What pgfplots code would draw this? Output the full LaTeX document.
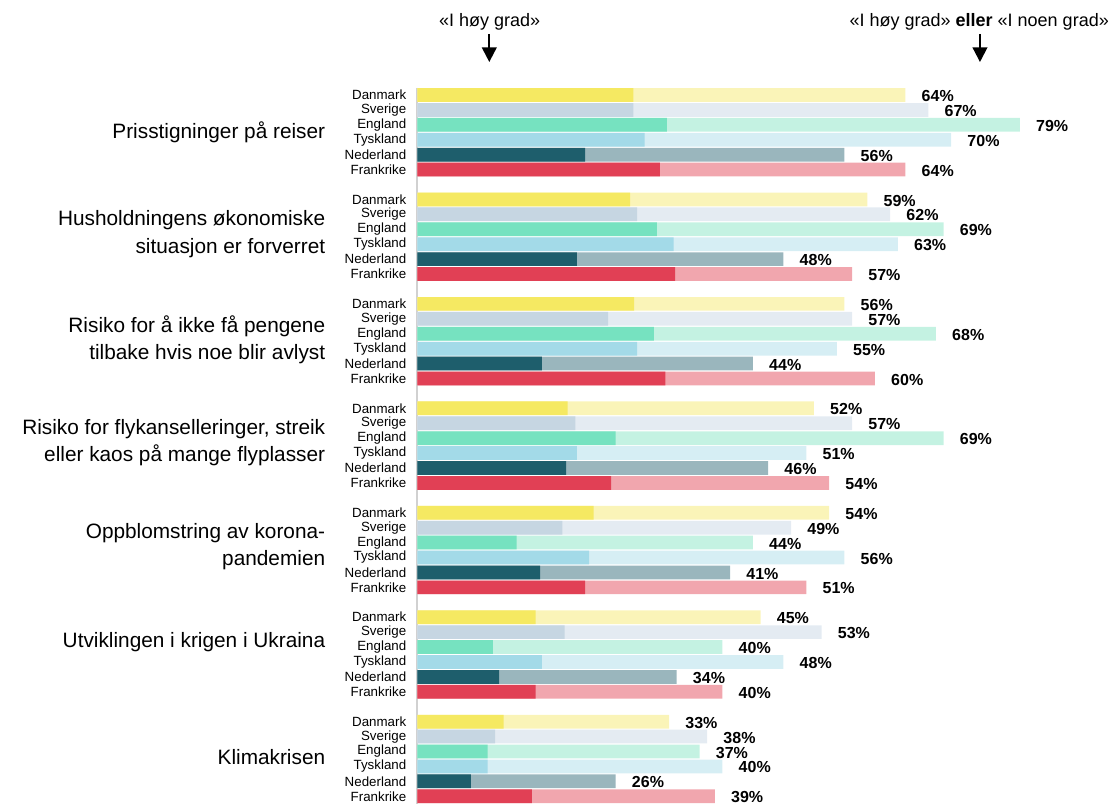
\documentclass[border=0pt]{standalone}
\usepackage{fontspec}
\setmainfont{Liberation Sans}
\usepackage{pgfplots}
\pgfplotsset{compat=1.18}
\usepackage{pgfplotstable}
\usetikzlibrary{arrows.meta}

\definecolor{dDK}{HTML}{F5E962}\definecolor{lDK}{HTML}{FAF4B8}
\definecolor{dSE}{HTML}{C6D6E2}\definecolor{lSE}{HTML}{E4EBF2}
\definecolor{dEN}{HTML}{76E2C0}\definecolor{lEN}{HTML}{C4F2E2}
\definecolor{dTY}{HTML}{A3DAE8}\definecolor{lTY}{HTML}{D6EEF4}
\definecolor{dNL}{HTML}{1E5E6C}\definecolor{lNL}{HTML}{9AB6BD}
\definecolor{dFR}{HTML}{E14055}\definecolor{lFR}{HTML}{F1A6AE}

% row = 7*group + country ; hi = "I høy grad", tot = "I høy grad" eller "I noen grad"
\pgfplotstableread{
row hi tot
0 28.3 64
7 27.9 59
14 28.4 56
21 19.7 52
28 23.1 54
35 15.5 45
42 11.3 33
}\tDK
\pgfplotstableread{
row hi tot
1 28.3 67
8 28.8 62
15 25.0 57
22 20.7 57
29 19.0 49
36 19.3 53
43 10.2 38
}\tSE
\pgfplotstableread{
row hi tot
2 32.7 79
9 31.4 69
16 31.0 68
23 26.0 69
30 13.0 44
37 9.9 40
44 9.2 37
}\tEN
\pgfplotstableread{
row hi tot
3 29.8 70
10 33.6 63
17 28.8 55
24 20.9 51
31 22.5 56
38 16.3 48
45 9.2 40
}\tTY
\pgfplotstableread{
row hi tot
4 22.0 56
11 20.9 48
18 16.3 44
25 19.5 46
32 16.1 41
39 10.7 34
46 7.0 26
}\tNL
\pgfplotstableread{
row hi tot
5 31.8 64
12 33.8 57
19 32.5 60
26 25.4 54
33 22.0 51
40 15.5 40
47 15.0 39
}\tFR

\newcommand{\titlefont}{\fontsize{15.6}{20.5}\selectfont}
\newcommand{\topfont}{\fontsize{13.5}{16}\selectfont}

\begin{document}
\begin{tikzpicture}
\begin{axis}[
  x=5.71875pt, y=11.19pt, y dir=reverse,
  xmin=0, xmax=85, ymin=-0.5, ymax=47.52,
  axis x line=none, axis y line=left,
  y axis line style={-, draw=black!18, line width=1.5pt},
  ytick={0,1,2,3,4,5,7,8,9,10,11,12,14,15,16,17,18,19,21,22,23,24,25,26,28,29,30,31,32,33,35,36,37,38,39,40,42,43,44,45,46,47},
  yticklabels={Danmark,Sverige,England,Tyskland,Nederland,Frankrike,
    Danmark,Sverige,England,Tyskland,Nederland,Frankrike,
    Danmark,Sverige,England,Tyskland,Nederland,Frankrike,
    Danmark,Sverige,England,Tyskland,Nederland,Frankrike,
    Danmark,Sverige,England,Tyskland,Nederland,Frankrike,
    Danmark,Sverige,England,Tyskland,Nederland,Frankrike,
    Danmark,Sverige,England,Tyskland,Nederland,Frankrike},
  major tick length=0pt,
  yticklabel style={font=\fontsize{10}{12}\selectfont, inner sep=0pt, anchor=east, xshift=-8.2pt},
  clip=false,
  mybar/.style={xbar, bar width=0.92, bar shift=0pt, draw=none},
  lab/.style={point meta=x,
    nodes near coords={\pgfmathprintnumber[assume math mode=true]{\pgfplotspointmeta}\%},
    every node near coord/.append style={anchor=west, inner sep=0pt, xshift=12pt, yshift=-0.8pt,
      font=\fontsize{12}{14}\selectfont\bfseries, text=black}},
]
\addplot[mybar, fill=lDK, lab] table[x=tot, y=row]{\tDK};
\addplot[mybar, fill=dDK] table[x=hi, y=row]{\tDK};
\addplot[mybar, fill=lSE, lab] table[x=tot, y=row]{\tSE};
\addplot[mybar, fill=dSE] table[x=hi, y=row]{\tSE};
\addplot[mybar, fill=lEN, lab] table[x=tot, y=row]{\tEN};
\addplot[mybar, fill=dEN] table[x=hi, y=row]{\tEN};
\addplot[mybar, fill=lTY, lab] table[x=tot, y=row]{\tTY};
\addplot[mybar, fill=dTY] table[x=hi, y=row]{\tTY};
\addplot[mybar, fill=lNL, lab] table[x=tot, y=row]{\tNL};
\addplot[mybar, fill=dNL] table[x=hi, y=row]{\tNL};
\addplot[mybar, fill=lFR, lab] table[x=tot, y=row]{\tFR};
\addplot[mybar, fill=dFR] table[x=hi, y=row]{\tFR};

% group titles
\node[anchor=east, align=right, font=\titlefont, inner sep=0pt] at (axis cs:-12.07,2.48) {Prisstigninger på reiser};
\node[anchor=east, align=right, font=\titlefont, inner sep=0pt] at (axis cs:-12.07,9.32) {Husholdningens økonomiske\\situasjon er forverret};
\node[anchor=east, align=right, font=\titlefont, inner sep=0pt] at (axis cs:-12.07,16.39) {Risiko for å ikke få pengene\\tilbake hvis noe blir avlyst};
\node[anchor=east, align=right, font=\titlefont, inner sep=0pt] at (axis cs:-12.07,23.32) {Risiko for flykanselleringer, streik\\eller kaos på mange flyplasser};
\node[anchor=east, align=right, font=\titlefont, inner sep=0pt] at (axis cs:-12.07,30.29) {Oppblomstring av korona-\\pandemien};
\node[anchor=east, align=right, font=\titlefont, inner sep=0pt] at (axis cs:-12.07,36.66) {Utviklingen i krigen i Ukraina};
\node[anchor=east, align=right, font=\titlefont, inner sep=0pt] at (axis cs:-12.07,44.37) {Klimakrisen};

% top annotations
\node[font=\topfont, inner sep=0pt] at (axis cs:9.47,-4.89) {«I høy grad»};
\node[font=\topfont, inner sep=0pt] at (axis cs:73.67,-4.89) {«I høy grad» \textbf{eller} «I noen grad»};
\draw[line width=1.5pt, -{Triangle[width=11pt,length=11pt]}] (axis cs:9.42,-4.09) -- (axis cs:9.42,-2.21);
\draw[line width=1.5pt, -{Triangle[width=11pt,length=11pt]}] (axis cs:73.77,-4.09) -- (axis cs:73.77,-2.21);

\coordinate (bbA) at (axis cs:-54.75,-6.367);
\coordinate (bbB) at (axis cs:91.74,47.52);
\end{axis}
\pgfresetboundingbox
\path (bbA) rectangle (bbB);
\end{tikzpicture}
\end{document}
